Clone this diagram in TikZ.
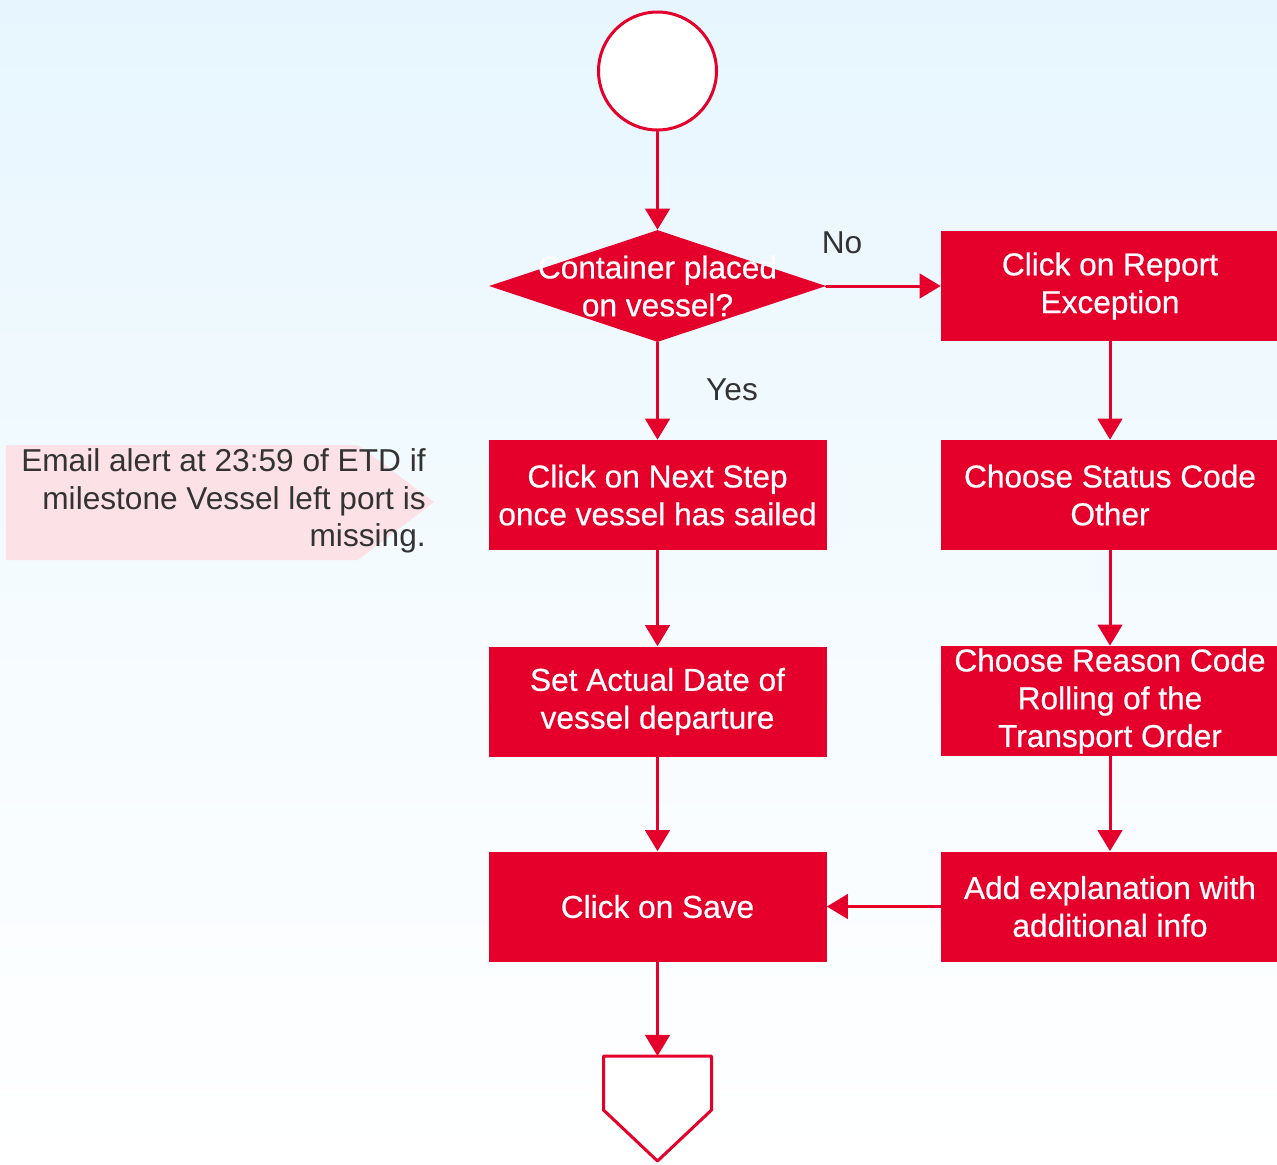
\documentclass[tikz,border=0pt]{standalone}
\usepackage{fontspec}
\setmainfont{Liberation Sans}
\newfontfamily\heavyfont{Liberation Sans}[FakeBold=0.6]
\usetikzlibrary{arrows.meta,shapes.geometric}
\definecolor{flowred}{RGB}{228,0,43}
\definecolor{notepink}{RGB}{252,225,231}
\definecolor{skyblue}{RGB}{231,246,254}
\definecolor{labelgray}{RGB}{51,51,51}
\newcommand{\flowfont}{\fontsize{18}{21.5}\selectfont}

\begin{document}
\begin{tikzpicture}[line cap=round, line join=round,
    box/.style={rectangle, fill=flowred, text=white, minimum width=6.76cm, minimum height=2.2cm, align=center, inner sep=0pt, font=\heavyfont\flowfont},
    decision/.style={diamond, fill=flowred, minimum width=6.74cm, minimum height=2.24cm, inner sep=0pt},
    decisiontext/.style={text=white, align=center, font=\heavyfont\flowfont},
    startnode/.style={circle, draw=flowred, fill=white, line width=0.06cm, minimum size=2.36cm, inner sep=0pt},
    flow/.style={draw=flowred, line width=0.06cm, -{Triangle[length=12pt,width=14pt]}},
    answer/.style={text=labelgray, font=\flowfont}]

                \useasboundingbox (0,0) rectangle (25.54,-23.28);
                \shade[top color=skyblue, bottom color=white, middle color=skyblue!45!white] (0,0) rectangle (25.54,-23.28);

                % callout on the left
                \fill[notepink] (0.12,-8.9) -- (7.16,-8.9) -- (8.68,-10.04) -- (7.16,-11.2) -- (0.12,-11.2) -- cycle;
                \node[anchor=east, align=right, inner sep=0pt, text=labelgray, font=\flowfont] (alert) at (8.52,-10.02) {Email alert at 23:59 of ETD if\\milestone Vessel left port is\\missing.};

                \node[startnode] (start) at (13.15,-1.42) {};
                \node[decision, label={[decisiontext]center:{Container placed\\on vessel?}}] (placed) at (13.15,-5.72) {};

                \node[box] (nextstep) at (13.15,-9.9) {Click on Next Step\\once vessel has sailed};
                \node[box] (actualdate) at (13.15,-14.03) {Set Actual Date of\\vessel departure};
                \node[box] (save) at (13.15,-18.13) {Click on Save};

                \node[box] (report) at (22.2,-5.72) {Click on Report\\Exception};
                \node[box] (status) at (22.2,-9.9) {Choose Status Code\\Other};
                \node[box] (reason) at (22.2,-14.02) {Choose Reason Code\\Rolling of the\\Transport Order};
                \node[box] (explain) at (22.2,-18.13) {Add explanation with\\additional info};

                \node[answer] (no) at (16.84,-4.86) {No};
                \node[answer] (yes) at (14.64,-7.8) {Yes};

                % end terminator
                \coordinate (stop) at (13.15,-21.12);
                \draw[flowred, fill=white, line width=0.06cm] (12.07,-21.12) -- (14.23,-21.12) -- (14.23,-22.2) -- (13.15,-23.22) -- (12.07,-22.2) -- cycle;

                \draw[flow] (start) -- (placed);
                \draw[flow] (placed.east) -- (report.west);
                \draw[flow] (placed.south) -- (nextstep.north);
                \draw[flow] (nextstep) -- (actualdate);
                \draw[flow] (actualdate) -- (save);
                \draw[flow] (save) -- (stop);

                \draw[flow] (report) -- (status);
                \draw[flow] (status) -- (reason);
                \draw[flow] (reason) -- (explain);
                \draw[flow] (explain.west) -- (save.east);

\end{tikzpicture}
\end{document}
